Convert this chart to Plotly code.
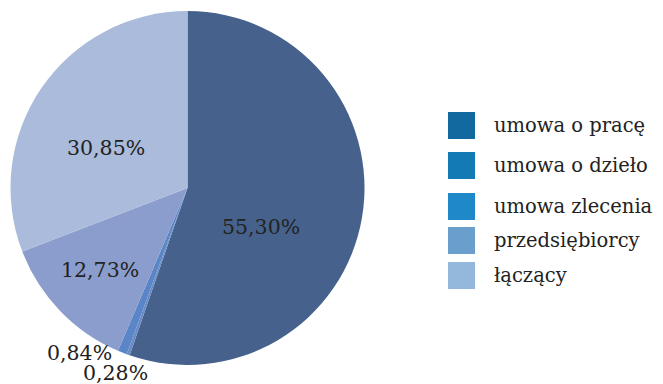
import plotly.graph_objects as go

# Data
categories = ["umowa o pracę", "umowa o dzieło", "umowa zlecenia", "przedsiębiorcy", "łączący"]
shares = [55.30, 0.28, 0.84, 12.73, 30.85]

# Styling
slice_colors = ["#46628c", "#6a8cc4", "#5a86c8", "#8a9dcc", "#aabbdb"]
legend_colors = ["#11699f", "#137ab5", "#1e88c9", "#6a9ecb", "#94b8dc"]
label_pos = [(261, 227), (115, 373), (79, 353), (100, 270), (106, 148)]  # pixel centres
FONT = "DejaVu Serif"
W, H = 663, 384

fig = go.Figure(
    go.Pie(
        labels=categories,
        values=shares,
        sort=False,
        direction="clockwise",
        rotation=0,
        marker=dict(colors=slice_colors, line=dict(width=0)),
        textinfo="none",
        hoverinfo="label+percent",
        showlegend=False,
        domain=dict(x=[10.5 / W, 364.5 / W], y=[(H - 365) / H, (H - 11) / H]),
    )
)

annotations = []
for v, (px, py) in zip(shares, label_pos):
    annotations.append(
        dict(
            x=px / W, y=1 - py / H, xref="paper", yref="paper",
            text=f"{v:.2f}%".replace(".", ","),
            showarrow=False, xanchor="center", yanchor="middle",
            font=dict(family=FONT, size=20.5, color="#222222"),
        )
    )

# Legend drawn as boxes + text
shapes = []
legend_rows = [125.5, 165.5, 206.5, 240.5, 275.5]
for name, col, cy in zip(categories, legend_colors, legend_rows):
    shapes.append(
        dict(
            type="rect", xref="paper", yref="paper",
            x0=448 / W, x1=475 / W, y0=1 - (cy + 13.5) / H, y1=1 - (cy - 13.5) / H,
            fillcolor=col, line=dict(width=0),
        )
    )
    annotations.append(
        dict(
            x=492 / W, y=1 - cy / H, xref="paper", yref="paper",
            text=name, showarrow=False, xanchor="left", yanchor="middle",
            font=dict(family=FONT, size=19.5, color="#222222"),
        )
    )

fig.update_layout(
    width=W, height=H,
    margin=dict(l=0, r=0, t=0, b=0),
    paper_bgcolor="white", plot_bgcolor="white",
    annotations=annotations, shapes=shapes,
)

fig.write_html("out.html")
